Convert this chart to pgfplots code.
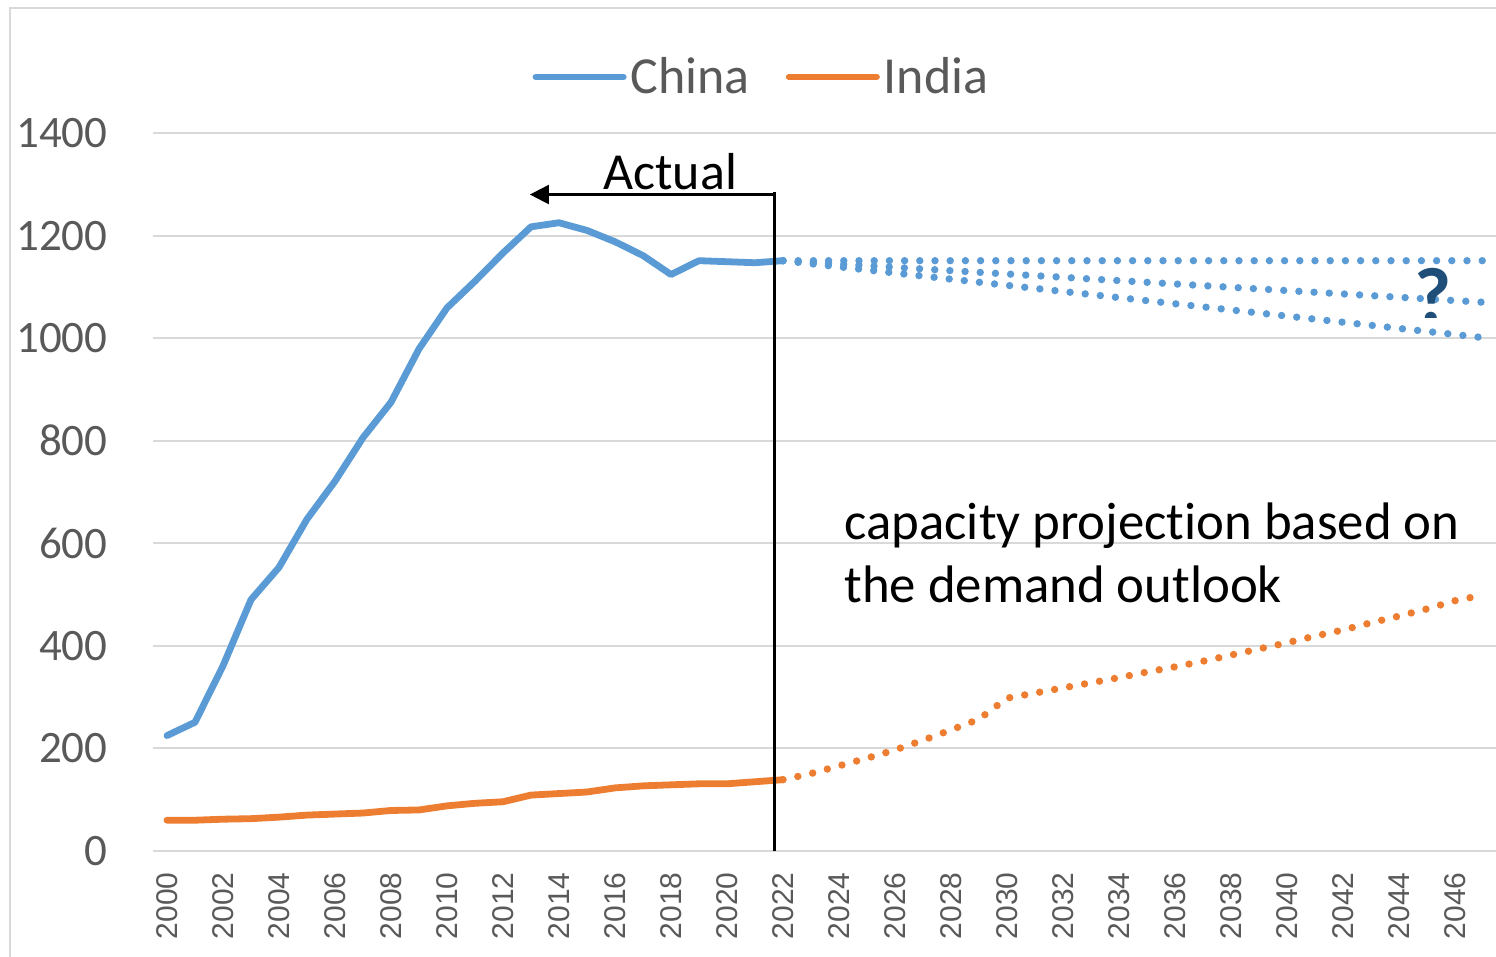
\documentclass[border=0pt]{standalone}
\usepackage{fontspec}
\setmainfont{Carlito}[Ligatures=NoCommon]
\newfontfamily\arialfont{Liberation Sans}
\usepackage{pgfplots}
\pgfplotsset{compat=1.18}
\usetikzlibrary{arrows.meta}
\definecolor{cblue}{HTML}{5B9BD5}
\definecolor{corange}{HTML}{ED7D31}
\definecolor{cgrid}{HTML}{D9D9D9}
\definecolor{ctext}{HTML}{595959}
\definecolor{cdark}{HTML}{1F4E79}
\begin{document}
\begin{tikzpicture}
\useasboundingbox (0,0) rectangle (748pt,478.5pt);
\draw[cgrid, line width=1pt] (5pt,-2pt) -- (5pt,474.5pt) -- (752pt,474.5pt);
\begin{axis}[
  scale only axis, width=672pt, height=359pt,
  at={(76.5pt,53pt)}, anchor=south west,
  xmin=1999.5, xmax=2047.5, ymin=0, ymax=1400,
  xtick={2000,2002,...,2046}, ytick={0,200,...,1400},
  ymajorgrids, grid style={cgrid, line width=1pt},
  axis line style={draw=none},
  major tick length=0pt,
  /pgf/number format/assume math mode=true,
  /pgf/number format/1000 sep={},
  xticklabel style={font=\arialfont\fontsize{15}{18}\selectfont, text=ctext, rotate=90, anchor=east, inner xsep=10.5pt, inner ysep=0pt},
  yticklabel style={font=\fontsize{22.5}{26}\selectfont, text=ctext, anchor=east, inner xsep=22.5pt, inner ysep=0pt},
  clip=false,
  legend columns=2,
  legend style={at={(0.4535,1)}, anchor=center, yshift=28pt, draw=none, fill=none,
    font=\fontsize{26}{30}\selectfont, text=ctext,
    /tikz/every even column/.append style={column sep=16pt}},
  legend image code/.code={\draw[#1, line width=3pt, solid] (0pt,0pt) -- (44pt,0pt);},
]
\addplot[cblue, line width=3.4pt, line join=round, line cap=round] coordinates {
 (2000,225) (2001,251) (2002,361) (2003,490) (2004,553) (2005,647) (2006,721)
 (2007,806) (2008,875) (2009,979) (2010,1059) (2011,1111) (2012,1166) (2013,1217)
 (2014,1225) (2015,1210) (2016,1188) (2017,1161) (2018,1124) (2019,1151) (2020,1149)
 (2021,1147) (2022,1151)};
\addlegendentry{China}
\addplot[corange, line width=3.4pt, line join=round, line cap=round] coordinates {
 (2000,60) (2001,60) (2002,62) (2003,63) (2004,66) (2005,70) (2006,72) (2007,74)
 (2008,79) (2009,80) (2010,88) (2011,93) (2012,96) (2013,109) (2014,112) (2015,115)
 (2016,123) (2017,127) (2018,129) (2019,131) (2020,131) (2021,135) (2022,139)};
\addlegendentry{India}
\addplot[forget plot, cblue, line width=3.7pt, line cap=round, dash pattern=on 0pt off 7.6pt] coordinates {(2022,1151) (2047,1151)};
\addplot[forget plot, cblue, line width=3.7pt, line cap=round, dash pattern=on 0pt off 7.6pt] coordinates {(2022,1151) (2047,1070)};
\addplot[forget plot, cblue, line width=3.7pt, line cap=round, dash pattern=on 0pt off 7.6pt] coordinates {(2022,1151) (2047,1001)};
\addplot[forget plot, corange, line width=3.7pt, line cap=round, dash pattern=on 0pt off 7.6pt] coordinates {
 (2022,139) (2023,151) (2024,166) (2025,181) (2026,197) (2027,216) (2028,236) (2029,257)
 (2030,298) (2031,308) (2032,318) (2033,328) (2034,338) (2035,349) (2036,359) (2037,370)
 (2038,382) (2039,394) (2040,406) (2041,419) (2042,431) (2043,445) (2044,458) (2045,472)
 (2046,488) (2047,499)};
\draw[black, line width=1.3pt] (axis cs:2021.7,0) -- (axis cs:2021.7,1285);
\draw[black, line width=1.1pt, -{Triangle[length=9.5pt, width=9.5pt]}] (axis cs:2021.7,1280) -- (axis cs:2012.96,1280);
\end{axis}
\node[anchor=base west, inner sep=0pt, font=\fontsize{26}{30}\selectfont] at (301.5pt,383.5pt) {Actual};
\node[anchor=base west, inner sep=0pt, font=\fontsize{26.4}{30}\selectfont] at (422pt,208.5pt) {capacity projection based on};
\node[anchor=base west, inner sep=0pt, font=\fontsize{26.4}{30}\selectfont] at (422pt,177pt) {the demand outlook};
\begin{scope}
\clip (690pt,319.5pt) rectangle (745pt,370pt);
\node[anchor=base, inner sep=0pt, font=\bfseries\fontsize{40}{40}\selectfont, text=cdark] at (716.75pt,316.5pt) {?};
\end{scope}
\end{tikzpicture}
\end{document}
